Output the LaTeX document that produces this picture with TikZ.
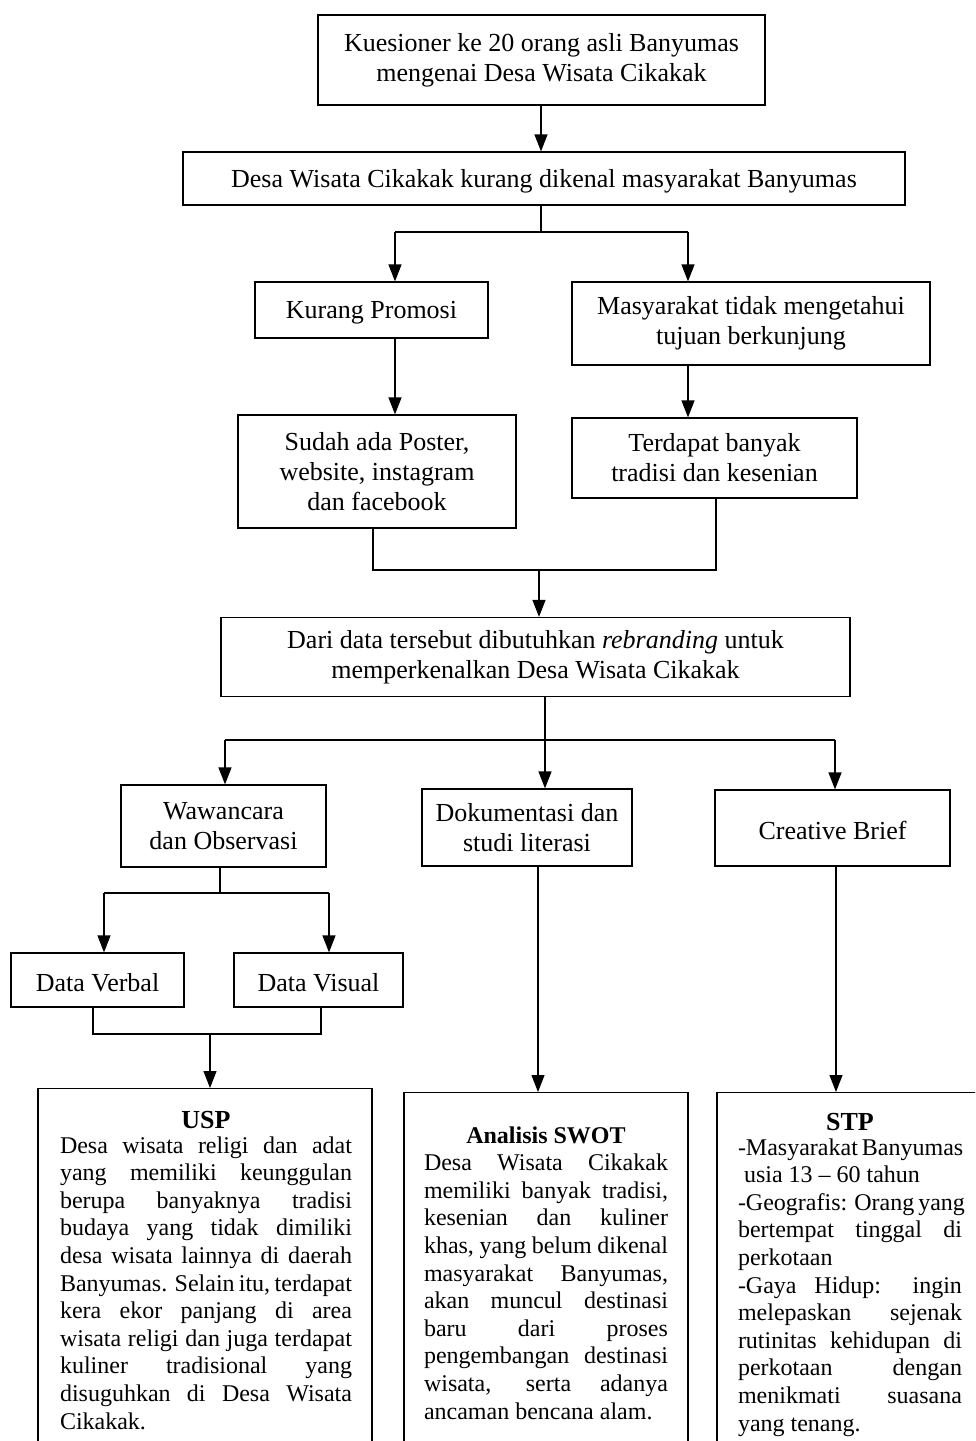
\documentclass[tikz,border=0pt]{standalone}
\usepackage{fontspec}
\setmainfont{Liberation Serif}
\usetikzlibrary{arrows.meta}
\newcommand\jl[1]{\makebox[\linewidth][s]{#1}}
\tikzset{
  box/.style={draw, line width=1.2pt, align=center, inner sep=0pt, font=\fontsize{26}{30}\selectfont,
    execute at begin node={\rule{0pt}{23pt}}},
  bigbox/.style={draw, line width=1.2pt, inner sep=0pt, anchor=north},
  txt/.style={inner sep=0pt, anchor=base},
  arr/.style={line width=1.2pt, -{Triangle[length=17pt,width=13pt]}},
  ln/.style={line width=1.2pt},
  body/.style={font=\fontsize{24}{27.6}\selectfont},
}
\begin{document}
\begin{tikzpicture}[x=1pt,y=-1pt]
\useasboundingbox (0,0) rectangle (975,1441);
\clip (0,0) rectangle (975,1441);
% boxes
\node[box, minimum width=447pt, minimum height=90pt] (k1) at (541.5,60) {Kuesioner ke 20 orang asli Banyumas\\mengenai Desa Wisata Cikakak};
\node[box, minimum width=722pt, minimum height=53pt] (k2) at (544,178.5) {Desa Wisata Cikakak kurang dikenal masyarakat Banyumas};
\node[box, minimum width=233pt, minimum height=56pt] (kp) at (371.5,310) {Kurang Promosi};
\node[box, minimum width=358pt, minimum height=83pt] (mt) at (751,323.5) {Masyarakat tidak mengetahui\\tujuan berkunjung};
\node[box, minimum width=278pt, minimum height=113pt] (sp) at (377,471.5) {Sudah ada Poster,\\website, instagram\\dan facebook};
\node[box, minimum width=285pt, minimum height=80pt] (tb) at (714.5,458) {Terdapat banyak\\tradisi dan kesenian};
\node[box, minimum width=629pt, minimum height=79pt] (dd) at (535.5,657) {Dari data tersebut dibutuhkan \textit{rebranding} untuk\\memperkenalkan Desa Wisata Cikakak};
\node[box, minimum width=205pt, minimum height=82pt] (wo) at (223.5,826) {Wawancara\\dan Observasi};
\node[box, minimum width=210pt, minimum height=77pt] (ds) at (527,827.5) {Dokumentasi dan\\studi literasi};
\node[box, minimum width=235pt, minimum height=76pt] (cb) at (832.5,828) {Creative Brief};
\node[box, minimum width=173pt, minimum height=54pt] (dv) at (97.5,980) {Data Verbal};
\node[box, minimum width=169pt, minimum height=54pt] (dvi) at (318.5,980) {Data Visual};
\node[bigbox, minimum width=334pt, minimum height=400pt] (usp) at (205,1088) {};
\node[bigbox, minimum width=284pt, minimum height=400pt] (swot) at (546,1092) {};
\node[bigbox, minimum width=300pt, minimum height=400pt] (stp) at (867,1092) {};
% bottom texts
\node[txt, body] (usptxt) at ([xshift=1pt,yshift=-40pt]usp.north) {\parbox[t]{292pt}{%
\makebox[\linewidth]{\fontsize{26}{27}\selectfont\bfseries USP}\\[-2.5pt]
\jl{Desa wisata religi dan adat}\\
\jl{yang memiliki keunggulan}\\
\jl{berupa banyaknya tradisi}\\
\jl{budaya yang tidak dimiliki}\\
\jl{desa wisata lainnya di daerah}\\
\jl{Banyumas. Selain itu, terdapat}\\
\jl{kera ekor panjang di area}\\
\jl{wisata religi dan juga terdapat}\\
\jl{kuliner tradisional yang}\\
\jl{disuguhkan di Desa Wisata}\\
Cikakak.}};
\node[txt, body] (swottxt) at ([yshift=-51pt]swot.north) {\parbox[t]{244pt}{%
\makebox[\linewidth]{\bfseries Analisis SWOT}\\
\jl{Desa Wisata Cikakak}\\
\jl{memiliki banyak tradisi,}\\
\jl{kesenian dan kuliner}\\
\jl{khas, yang belum dikenal}\\
\jl{masyarakat Banyumas,}\\
\jl{akan muncul destinasi}\\
\jl{baru dari proses}\\
\jl{pengembangan destinasi}\\
\jl{wisata, serta adanya}\\
ancaman bencana alam.}};
\node[txt, body] (stptxt) at ([xshift=-17pt,yshift=-38pt]stp.north) {\parbox[t]{224pt}{%
\makebox[\linewidth]{\fontsize{26}{27}\selectfont\bfseries STP}\\[-2.5pt]
\jl{-Masyarakat Banyumas}\\
\hspace*{6pt}usia 13 – 60 tahun\\
\jl{-Geografis: Orang yang}\\
\jl{bertempat tinggal di}\\
perkotaan\\
\jl{-Gaya Hidup: ingin}\\
\jl{melepaskan sejenak}\\
\jl{rutinitas kehidupan di}\\
\jl{perkotaan dengan}\\
\jl{menikmati suasana}\\
yang tenang.}};
% junction coordinates
\coordinate (j1) at (541,232);
\coordinate (a1) at (395,232);
\coordinate (b1) at (688,232);
\coordinate (c1) at (373,570);
\coordinate (c2) at (716,570);
\coordinate (c3) at (539,570);
\coordinate (d0) at (545,740);
\coordinate (d1) at (225,740);
\coordinate (d3) at (835,740);
\coordinate (e0) at (220,893);
\coordinate (e1) at (104,893);
\coordinate (e2) at (329,893);
\coordinate (f1) at (93,1034);
\coordinate (f2) at (321,1034);
\coordinate (f0) at (210,1034);
\coordinate (g) at (538,1000);
\coordinate (h) at (836,1000);
% connectors
\draw[arr] (k1.south -| j1) -- (j1 |- k2.north);
\draw[ln] (j1 |- k2.south) -- (j1);
\draw[ln] (a1) -- (b1);
\draw[arr] (a1) -- (a1 |- kp.north);
\draw[arr] (b1) -- (b1 |- mt.north);
\draw[arr] (a1 |- kp.south) -- (a1 |- sp.north);
\draw[arr] (b1 |- mt.south) -- (b1 |- tb.north);
\draw[ln] (c1 |- sp.south) -- (c1) -- (c2) -- (c2 |- tb.south);
\draw[arr] (c3) -- (c3 |- dd.north);
\draw[ln] (d0 |- dd.south) -- (d0);
\draw[ln] (d1) -- (d3);
\draw[arr] (d1) -- (d1 |- wo.north);
\draw[arr] (d0) -- (d0 |- ds.north);
\draw[arr] (d3) -- (d3 |- cb.north);
\draw[ln] (e0 |- wo.south) -- (e0);
\draw[ln] (e1) -- (e2);
\draw[arr] (e1) -- (e1 |- dv.north);
\draw[arr] (e2) -- (e2 |- dvi.north);
\draw[ln] (f1 |- dv.south) -- (f1) -- (f2) -- (f2 |- dvi.south);
\draw[arr] (f0) -- (f0 |- usp.north);
\draw[arr] (g |- ds.south) -- (g |- swot.north);
\draw[arr] (h |- cb.south) -- (h |- stp.north);
\end{tikzpicture}
\end{document}
